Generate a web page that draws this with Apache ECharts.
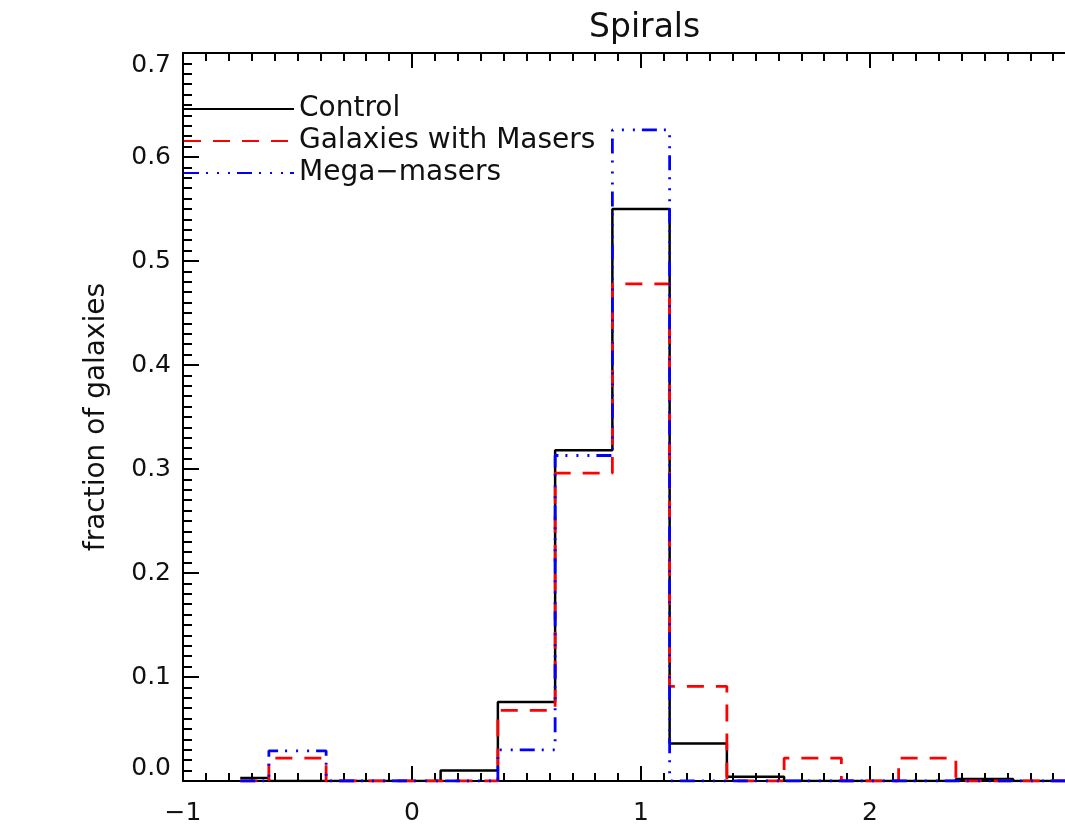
<!DOCTYPE html>
<html>
<head>
<meta charset="utf-8">
<script src="https://cdn.jsdelivr.net/npm/echarts@6/dist/echarts.min.js"></script>
<style>html,body{margin:0;padding:0;background:#fff;overflow:hidden;width:1065px;height:839px}#c{width:1099px;height:839px}</style>
</head>
<body>
<div id="c"></div>
<script>
const binCenters = [-0.75,-0.5,-0.25,0,0.25,0.5,0.75,1.0,1.25,1.5,1.75,2.0,2.25,2.5,2.75,3.0];
const control = [0.003,0,0,0,0.010,0.076,0.318,0.550,0.036,0.004,0,0,0,0.002,0,0];
const masers  = [0,0.022,0,0,0,0.068,0.296,0.478,0.091,0,0.022,0,0.022,0,0,0];
const mega    = [0,0.029,0,0,0,0.030,0.313,0.626,0,0,0,0,0,0,0,0];
const seriesNames = ['Control','Galaxies with Masers','Mega\u2212masers'];
const titleText = 'Spirals';
const yName = 'fraction of galaxies';

const FONT = 'DejaVu Sans';
const pairs = arr => binCenters.map((x,i)=>[x,arr[i]]);

const chart = echarts.init(document.getElementById('c'));
const axisCommon = {
  type:'value', min:-1, max:3, interval:1,
  axisLine:{show:true, onZero:false, lineStyle:{color:'#000', width:2}},
  axisTick:{show:true, inside:true, length:15, lineStyle:{color:'#000', width:2}},
  minorTick:{show:true, splitNumber:10, length:8, lineStyle:{color:'#000', width:2}},
  splitLine:{show:false}
};
chart.setOption({
  animation:false,
  backgroundColor:'#fff',
  title:{text:titleText, left:584, top:7, textStyle:{fontFamily:FONT, fontSize:33, fontWeight:'normal', color:'#111'}},
  legend:{
    orient:'vertical', left:183, top:94, padding:0, itemWidth:110, itemHeight:14, itemGap:2,
    itemStyle:{opacity:0},
    textStyle:{fontFamily:FONT, fontSize:28, color:'#111', lineHeight:30},
    data:seriesNames
  },
  grid:{left:183, right:0, top:53, bottom:58, containLabel:false, outerBoundsMode:'none'},
  xAxis:[
    Object.assign({}, axisCommon, {position:'bottom',
      axisLabel:{show:true, margin:20, fontFamily:FONT, fontSize:25, color:'#111',
        formatter:v => v<0 ? '\u2212'+Math.abs(v) : String(v)}}),
    Object.assign({}, axisCommon, {position:'top', axisLabel:{show:false}})
  ],
  yAxis:{
    type:'value', min:0, max:0.7, interval:0.1,
    name:yName, nameLocation:'middle', nameRotate:90, nameGap:72,
    nameTextStyle:{fontFamily:FONT, fontSize:28, color:'#111'},
    axisLine:{show:true, onZero:false, lineStyle:{color:'#000', width:2}},
    axisTick:{show:true, inside:true, length:16, lineStyle:{color:'#000', width:2}},
    minorTick:{show:true, splitNumber:10, length:9, lineStyle:{color:'#000', width:2}},
    splitLine:{show:false},
    axisLabel:{margin:12, fontFamily:FONT, fontSize:25, color:'#111',
      verticalAlignMinLabel:'bottom', verticalAlignMaxLabel:'top',
      formatter:v => v.toFixed(1)}
  },
  series:[
    {name:seriesNames[0], type:'line', step:'middle', symbol:'none', data:pairs(control),
     lineStyle:{color:'#000', width:2.5}, itemStyle:{color:'#000'}, z:2},
    {name:seriesNames[1], type:'line', step:'middle', symbol:'none', data:pairs(masers),
     lineStyle:{color:'#ff0000', width:2.8, type:[17,12]}, itemStyle:{color:'#ff0000'}, z:3},
    {name:seriesNames[2], type:'line', step:'middle', symbol:'none', data:pairs(mega),
     lineStyle:{color:'#0000ff', width:2.8, type:[15,7,2,9,2,9,2,7]}, itemStyle:{color:'#0000ff'}, z:4}
  ]
});
</script>
</body>
</html>
